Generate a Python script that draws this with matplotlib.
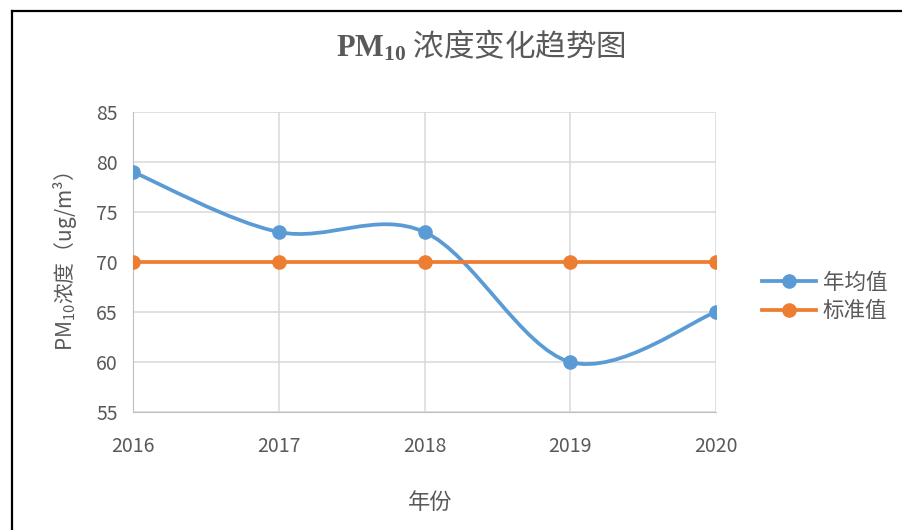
import numpy as np
import matplotlib
matplotlib.use("Agg")
import matplotlib.pyplot as plt
from matplotlib.path import Path
from matplotlib.patches import PathPatch
from matplotlib.lines import Line2D

plt.rcParams['font.family'] = ['Noto Sans CJK SC', 'DejaVu Sans']
plt.rcParams['mathtext.fontset'] = 'custom'
plt.rcParams['mathtext.rm'] = 'Noto Sans CJK SC'
plt.rcParams['mathtext.bf'] = 'Liberation Serif:bold'

# data
years = [2016, 2017, 2018, 2019, 2020]
annual_mean = [79, 73, 73, 60, 65]
standard = [70, 70, 70, 70, 70]
y_ticks = [55, 60, 65, 70, 75, 80, 85]

BLUE = '#5B9BD5'
ORANGE = '#ED7D31'
GRAY = '#595959'


def smooth_path(xs, ys, t=1/6):
    # Excel style smoothed line (cardinal bezier through the points)
    pts = np.column_stack([xs, ys]).astype(float)
    n = len(pts)
    verts = [pts[0]]
    codes = [Path.MOVETO]
    for i in range(n - 1):
        p0 = pts[max(i - 1, 0)]
        p1 = pts[i]
        p2 = pts[i + 1]
        p3 = pts[min(i + 2, n - 1)]
        verts += [p1 + (p2 - p0) * t, p2 - (p3 - p1) * t, p2]
        codes += [Path.CURVE4] * 3
    return Path(verts, codes)


fig = plt.figure(figsize=(9.03, 5.30), dpi=100)
ax = fig.add_axes([133/903, 1 - 412/530, (716 - 133)/903, 300/530])

ax.add_patch(PathPatch(smooth_path(years, annual_mean), fill=False,
                       edgecolor=BLUE, lw=2.7, zorder=3, capstyle='round'))
ax.plot(years, annual_mean, ls='none', marker='o', ms=9.5, color=BLUE, zorder=4)
ax.plot(years, standard, color=ORANGE, lw=2.7, marker='o', ms=9.5, zorder=4)

ax.set_xlim(years[0], years[-1])
ax.set_ylim(y_ticks[0], y_ticks[-1])
ax.set_xticks(years)
ax.set_yticks(y_ticks)
ax.grid(True, color='#D9D9D9', lw=1.1)
ax.set_axisbelow(True)
for s in ['top', 'right']:
    ax.spines[s].set_visible(False)
for s in ['left', 'bottom']:
    ax.spines[s].set_color('#BFBFBF')
ax.tick_params(length=0, labelsize=14, labelcolor=GRAY)
ax.tick_params(axis='x', pad=17)
ax.tick_params(axis='y', pad=11)

ax.set_ylabel('PM$_{10}$浓度（ug/m³）', fontsize=15, color=GRAY, labelpad=12)
fig.text(430/903, 1 - 502/530, '年份', fontsize=16, color=GRAY,
         ha='center', va='center')
fig.text(481/903, 1 - 46/530, r'$\mathbf{PM_{10}}$ 浓度变化趋势图', fontsize=22,
         color=GRAY, ha='center', va='center')

handles = [Line2D([], [], color=BLUE, lw=2.7, marker='o', ms=9.5),
           Line2D([], [], color=ORANGE, lw=2.7, marker='o', ms=9.5)]
fig.legend(handles, ['年均值', '标准值'], loc='center left',
           bbox_to_anchor=(743/903, 1 - 297/530), frameon=False, fontsize=15.5,
           labelcolor=GRAY, handlelength=2.5, handletextpad=0.3, labelspacing=0.3)

# outer frame (left and top edges)
fig.add_artist(Line2D([12/903, 12/903], [0, 1 - 11/530], color='black', lw=1.6))
fig.add_artist(Line2D([12/903, 1], [1 - 11/530, 1 - 11/530], color='black', lw=1.6))

fig.savefig('out.png', dpi=100)
